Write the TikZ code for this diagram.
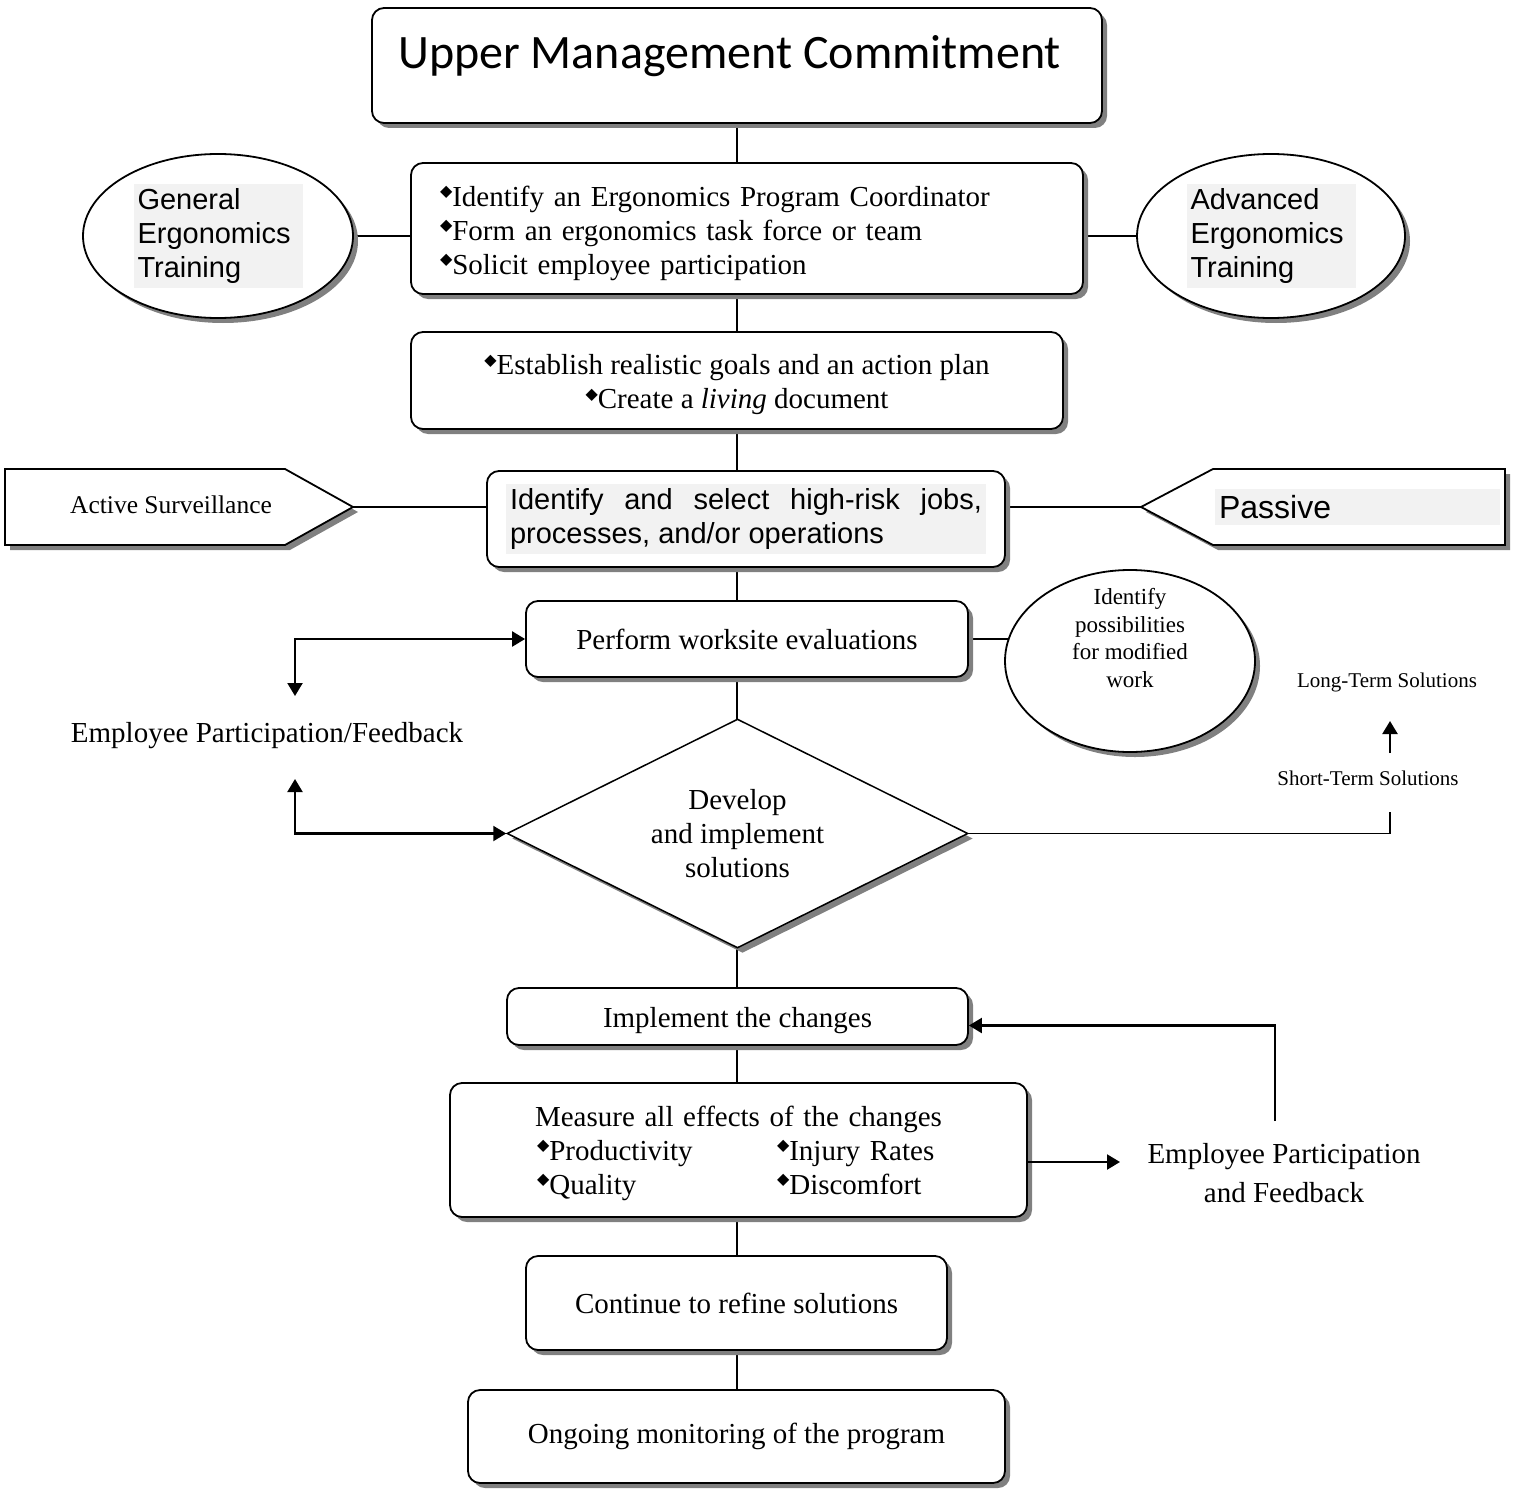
\documentclass[tikz,border=0pt]{standalone}
\usepackage{fontspec}
\setmainfont{Liberation Serif}
\newfontfamily\arialf{Liberation Sans}
\newfontfamily\calibf{Carlito}
\newfontfamily\dejavuf{DejaVu Sans}
\usetikzlibrary{shapes.geometric,shadows,arrows.meta,backgrounds}
\definecolor{hl}{HTML}{F2F2F2}
\definecolor{sg}{HTML}{808080}
\newcommand{\mainf}{\fontsize{29}{34}\selectfont}
\newcommand{\bul}{\smash{\raisebox{9.5pt}{\dejavuf\fontsize{16}{16}\selectfont ◆}}}
\newcommand{\lowr}[1]{\rule{0pt}{#1}}
\tikzset{
  shad/.style={drop shadow={shadow xshift=5pt,shadow yshift=-5pt,fill=sg,opacity=1}},
  rbox/.style={draw,line width=1.8pt,rounded corners=12pt,fill=white,shad,inner sep=0pt,font=\mainf},
  ellip/.style={ellipse,draw,line width=1.8pt,fill=white,shad,inner sep=0pt},
  pent/.style={draw,line width=1.8pt,fill=white,shad},
  conn/.style={line width=1.5pt},
  arr/.style={line width=2.2pt,-{Triangle[length=13pt,width=15pt]}},
  darr/.style={line width=2.2pt,{Triangle[length=13pt,width=15pt]}-{Triangle[length=13pt,width=15pt]}},
  plain/.style={inner sep=0pt,font=\mainf,align=center}
}
\begin{document}
\begin{tikzpicture}[x=1pt,y=-1pt]
\useasboundingbox (0,0) rectangle (1517,1490);

% main column
\node[rbox,minimum width=730pt,minimum height=115pt] (b1) at (737,65.5) {};
\node[font=\calibf\fontsize{48}{56}\selectfont,anchor=base west,inner sep=0pt] (b1t) at (398,69) {Upper Management Commitment};

\node[rbox,minimum width=672pt,minimum height=131pt,text width=614pt,inner xsep=29pt,align=left] (b2) at (747,228.5)
 {\lowr{30pt}\bul Identify an Ergonomics Program Coordinator\\ \bul Form an ergonomics task force or team\\ \bul Solicit employee participation};

\node[rbox,minimum width=652pt,minimum height=97pt,align=center] (b3) at (737,380.5)
 {\lowr{29pt}\bul Establish realistic goals and an action plan\\ \bul Create a \textit{living} document};

\node[rbox,minimum width=518pt,minimum height=96pt] (b4) at (746,519)
 {\setlength\fboxsep{4pt}\colorbox{hl}{\parbox{472pt}{\arialf\fontsize{29}{34}\selectfont\hyphenpenalty=10000 Identify and select high-risk jobs, processes, and/or operations}}};

\node[rbox,minimum width=442pt,minimum height=76pt] (b5) at (747,639) {Perform worksite evaluations};

\node[diamond,aspect=2,draw,line width=1.5pt,fill=white,shad,minimum width=461pt,minimum height=229pt,inner sep=0pt,align=center,font=\mainf] (dev) at (737.5,833.5) {Develop\\and implement\\solutions};

\node[rbox,minimum width=461pt,minimum height=57pt] (b6) at (737.5,1016.5) {\lowr{28pt}Implement the changes};

\node[rbox,minimum width=577pt,minimum height=134pt,text width=403pt,inner xsep=87pt,align=left] (b7) at (738.5,1150)
 {\lowr{27pt}\makebox[403pt]{Measure all effects of the changes}\\
  \makebox[240pt][l]{\bul Productivity}\bul Injury Rates\\
  \makebox[240pt][l]{\bul Quality}\bul Discomfort};

\node[rbox,minimum width=421pt,minimum height=94pt] (b8) at (736.5,1303) {Continue to refine solutions};
\node[rbox,minimum width=537pt,minimum height=93pt] (b9) at (736.5,1436.5) {Ongoing monitoring of the program};

% side ellipses
\node[ellip,minimum width=270pt,minimum height=164pt] (gel) at (218,236)
 {\setlength\fboxsep{4pt}\colorbox{hl}{\parbox[c][96pt][c]{161pt}{\arialf\fontsize{29}{34}\selectfont General\\Ergonomics\\Training}}};
\node[ellip,minimum width=268pt,minimum height=164pt] (ael) at (1271,236)
 {\setlength\fboxsep{4pt}\colorbox{hl}{\parbox[c][96pt][c]{161pt}{\arialf\fontsize{29}{34}\selectfont Advanced\\Ergonomics\\Training}}};

% pentagons
\draw[pent] (5,469) -- (285,469) -- (353,507) -- (285,545) -- (5,545) -- cycle;
\node[plain,font=\fontsize{25.5}{30}\selectfont] (ast) at (171,505) {Active Surveillance};
\coordinate (asTip) at (353,507);
\draw[pent] (1141,507) -- (1213,469) -- (1505,469) -- (1505,545) -- (1213,545) -- cycle;
\node[fill=hl,minimum width=285pt,minimum height=36pt,text width=277pt,inner xsep=4pt,inner ysep=0pt,align=left,font=\arialf\fontsize{32}{36}\selectfont] (pst) at (1357.5,507) {Passive};
\coordinate (psTip) at (1141,507);

% modified work circle
\node[ellip,minimum width=250pt,minimum height=182pt] (mw) at (1130,661) {};
\node[plain,font=\fontsize{23}{27.5}\selectfont] (mwt) at (1130,638) {Identify\\possibilities\\for modified\\work};

% free texts
\node[plain,font=\fontsize{29}{34}\selectfont] (epf) at (267,736) {Employee Participation/Feedback};
\node[plain,font=\fontsize{21}{25}\selectfont] (lts) at (1387,682) {Long-Term Solutions};
\node[plain,font=\fontsize{21}{25}\selectfont] (sts) at (1368,778) {Short-Term Solutions};
\node[plain,font=\fontsize{29}{39}\selectfont] (epf2) at (1284,1173) {Employee Participation\\and Feedback};

\coordinate (fbT) at (295,696);
\coordinate (fbB) at (295,779);
\coordinate (stsB) at (1390,812);
\coordinate (stU) at (1390,753);
\coordinate (ltD) at (1390,721);
\coordinate (epfIn) at (1120,1162);
\coordinate (epfOut) at (1275,1121);

% connectors behind the shapes
\begin{scope}[on background layer]
\draw[conn] (b1.south) -- (b1.south |- b9.north);
\draw[conn] (gel.east) -- (gel.east -| b2.west);
\draw[conn] (ael.west) -- (ael.west -| b2.east);
\draw[conn] (asTip) -- (asTip -| b4.west);
\draw[conn] (psTip) -- (psTip -| b4.east);
\draw[conn] (b5.east) -- (b5.east -| mw.center);
\draw[conn] (dev.east) -| (stsB);
\end{scope}

% arrows
\draw[darr] (fbT) |- (b5.west);
\draw[darr] (fbB) |- (dev.west);
\draw[arr] (stU) -- (ltD);
\draw[arr] ([yshift=-12pt]b7.east) -- (epfIn);
\draw[arr] (epfOut) |- ([yshift=-9pt]b6.east);
\end{tikzpicture}
\end{document}
